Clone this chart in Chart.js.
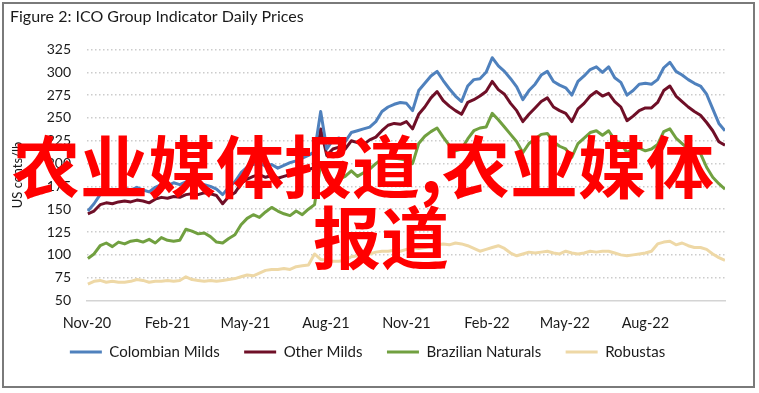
<!DOCTYPE html>
<html>
<head>
<meta charset="utf-8">
<script src="https://cdn.jsdelivr.net/npm/chart.js@4.4.1/dist/chart.umd.min.js"></script>
<style>
  html, body { margin: 0; padding: 0; background: #ffffff; }
  #wrap { position: relative; width: 759px; height: 393px; overflow: hidden; background: #fff; }
  #frame { position: absolute; left: 2px; top: 2px; width: 753px; height: 386px; border: 2px solid #7a7a7a; box-sizing: border-box; pointer-events: none; }
  #chart { position: absolute; left: 0; top: 0; }
  .ov { position: absolute; color: #ff0000; font-family: "Noto Sans CJK SC", sans-serif; font-weight: 700; font-size: 68px; line-height: 1; white-space: nowrap; pointer-events: none; }
  #ov1 { left: 12px; top: 130px; }
  #ov2 { left: 0; width: 762px; text-align: center; top: 201px; }
</style>
</head>
<body>
<div id="wrap">
  <canvas id="chart" width="759" height="393"></canvas>
  <div id="frame"></div>
  <div class="ov" id="ov1">农业媒体报道,农业媒体</div>
  <div class="ov" id="ov2">报道</div>
</div>
<script>
// ---- data (weekly readings, first week starting 2 Nov 2020) ----
const startDate = '2020-11-02';
const axisOrigin = '2020-11-01';
const tickDates = ['2020-11-01','2021-02-01','2021-05-01','2021-08-01','2021-11-01','2022-02-01','2022-05-01','2022-08-01'];
const tickLabels = ['Nov-20','Feb-21','May-21','Aug-21','Nov-21','Feb-22','May-22','Aug-22'];
const axisEndDate = '2022-11-01';

const seriesNames = ['Colombian Milds','Other Milds','Brazilian Naturals','Robustas'];
const seriesColors = ['#4f81bd','#6f0f27','#71a040','#eed8a6'];

const colombianMilds = [148,156,166,170,172,170,173,171,174,171,169,174,177,176,179,177,180,178,179,177,
  175,172,166,174,180,190,196,199,201,197,199,195,198,201,203,206,209,213,257,216,
  226,228,224,234,236,238,240,246,257,262,265,267,266,258,280,288,296,301,291,282,
  274,268,285,292,293,300,316,307,301,293,284,270,280,287,297,301,290,286,283,275,
  290,296,303,306,300,306,294,289,275,280,287,288,287,292,305,311,301,297,292,288,
  285,276,260,244,236];
const otherMilds = [145,148,155,157,156,158,159,158,160,159,157,161,163,162,164,163,166,167,166,168,
  167,165,156,164,168,178,183,186,188,185,187,184,186,188,189,191,193,196,238,209,
  216,218,216,225,223,221,226,229,236,242,244,243,246,238,254,262,272,279,269,263,
  258,254,267,270,274,279,290,281,276,266,258,246,254,261,268,272,262,258,255,246,
  260,266,274,279,274,277,268,262,247,252,258,261,261,267,280,285,274,268,262,257,
  253,245,236,224,220];
const brazilianNaturals = [96,101,110,113,109,114,112,115,116,114,117,113,119,116,115,116,128,126,123,124,
  120,114,113,118,122,133,140,144,141,147,152,148,145,143,148,144,150,155,200,182,
  178,183,186,192,186,190,194,200,205,207,206,205,204,200,222,230,235,239,229,220,
  214,216,227,236,239,240,255,248,240,232,224,212,222,227,232,233,224,219,216,207,
  222,228,234,236,231,236,226,222,212,216,217,214,216,221,235,238,228,222,216,214,
  211,196,185,178,172];
const robustas = [68,71,72,70,71,70,70,71,73,72,70,71,71,72,71,72,76,73,72,71,
  72,71,72,73,74,76,78,77,80,83,84,84,85,84,87,88,89,101,95,94,
  93,93,94,98,99,99,101,103,104,104,105,104,106,108,107,108,110,111,112,111,
  113,112,110,107,104,106,108,110,107,102,99,101,103,102,103,104,102,101,104,102,
  101,102,104,103,104,104,102,100,99,100,101,102,104,112,114,115,111,113,110,108,
  108,106,101,97,94];

const yTickMin = 50, yTickMax = 325, yTickStep = 25;

// ---- helpers ----
const DAY = 86400000;
const dayOf = s => Math.round((Date.parse(s + 'T00:00:00Z') - Date.parse(axisOrigin + 'T00:00:00Z')) / DAY);
const firstDay = dayOf(startDate);
const tickDays = tickDates.map(dayOf);
const toPoints = arr => arr.map((v, i) => ({ x: firstDay + 7 * i, y: v }));

const allSeries = [colombianMilds, otherMilds, brazilianNaturals, robustas];
const datasets = allSeries.map((arr, k) => ({
  label: seriesNames[k],
  data: toPoints(arr),
  borderColor: seriesColors[k],
  backgroundColor: seriesColors[k],
  borderWidth: 3,
  pointRadius: 0,
  tension: 0,
  borderJoinStyle: 'round',
  order: k
}));

const FONT = 'Lato, "Open Sans", sans-serif';
const legendGap = '\u00a0\u00a0\u00a0';

new Chart(document.getElementById('chart'), {
  type: 'line',
  data: { datasets },
  options: {
    responsive: false,
    animation: false,
    layout: { padding: { left: 10, right: 34, top: 0, bottom: 23.5 } },
    plugins: {
      title: {
        display: true,
        text: 'Figure 2: ICO Group Indicator Daily Prices',
        align: 'start',
        color: '#1a1a1a',
        font: { family: FONT, size: 16, weight: 'normal' },
        padding: { top: 7, bottom: 23.3 }
      },
      legend: {
        position: 'bottom',
        labels: {
          color: '#1a1a1a',
          font: { family: FONT, size: 15 },
          boxWidth: 32,
          boxHeight: 3,
          padding: 13,
          generateLabels: chart => Chart.defaults.plugins.legend.labels.generateLabels(chart)
            .map((l, i, all) => Object.assign(l, {
              lineWidth: 0,
              fillStyle: l.strokeStyle,
              text: i < all.length - 1 ? l.text + legendGap : l.text
            }))
        }
      },
      tooltip: { enabled: false }
    },
    scales: {
      x: {
        type: 'linear',
        min: 0,
        max: dayOf(axisEndDate) - 1,
        grid: { display: false, drawTicks: false },
        border: { display: true, color: '#d4d4d4', width: 1.5 },
        afterBuildTicks: axis => { axis.ticks = tickDays.map(v => ({ value: v })); },
        afterFit: axis => { axis.height = 31; },
        ticks: {
          autoSkip: false,
          maxRotation: 0,
          padding: 14,
          color: '#1a1a1a',
          font: { family: FONT, size: 14.5 },
          callback: v => { const i = tickDays.indexOf(v); return i >= 0 ? tickLabels[i] : ''; }
        }
      },
      y: {
        min: yTickMin,
        max: yTickMax,
        afterFit: axis => { axis.width = 77; },
        grid: {
          drawTicks: false,
          lineWidth: 1.5,
          color: c => (c.tick && c.tick.value === yTickMin) ? 'rgba(0,0,0,0)' : '#cccccc'
        },
        border: { display: false, dash: [1.5, 2.5] },
        ticks: {
          stepSize: yTickStep,
          padding: 16,
          color: '#1a1a1a',
          font: { family: FONT, size: 14 }
        },
        title: {
          display: true,
          text: 'US cents/lb',
          color: '#1a1a1a',
          font: { family: FONT, size: 13 },
          padding: { top: 0, bottom: 0 }
        }
      }
    }
  }
});
</script>
</body>
</html>
